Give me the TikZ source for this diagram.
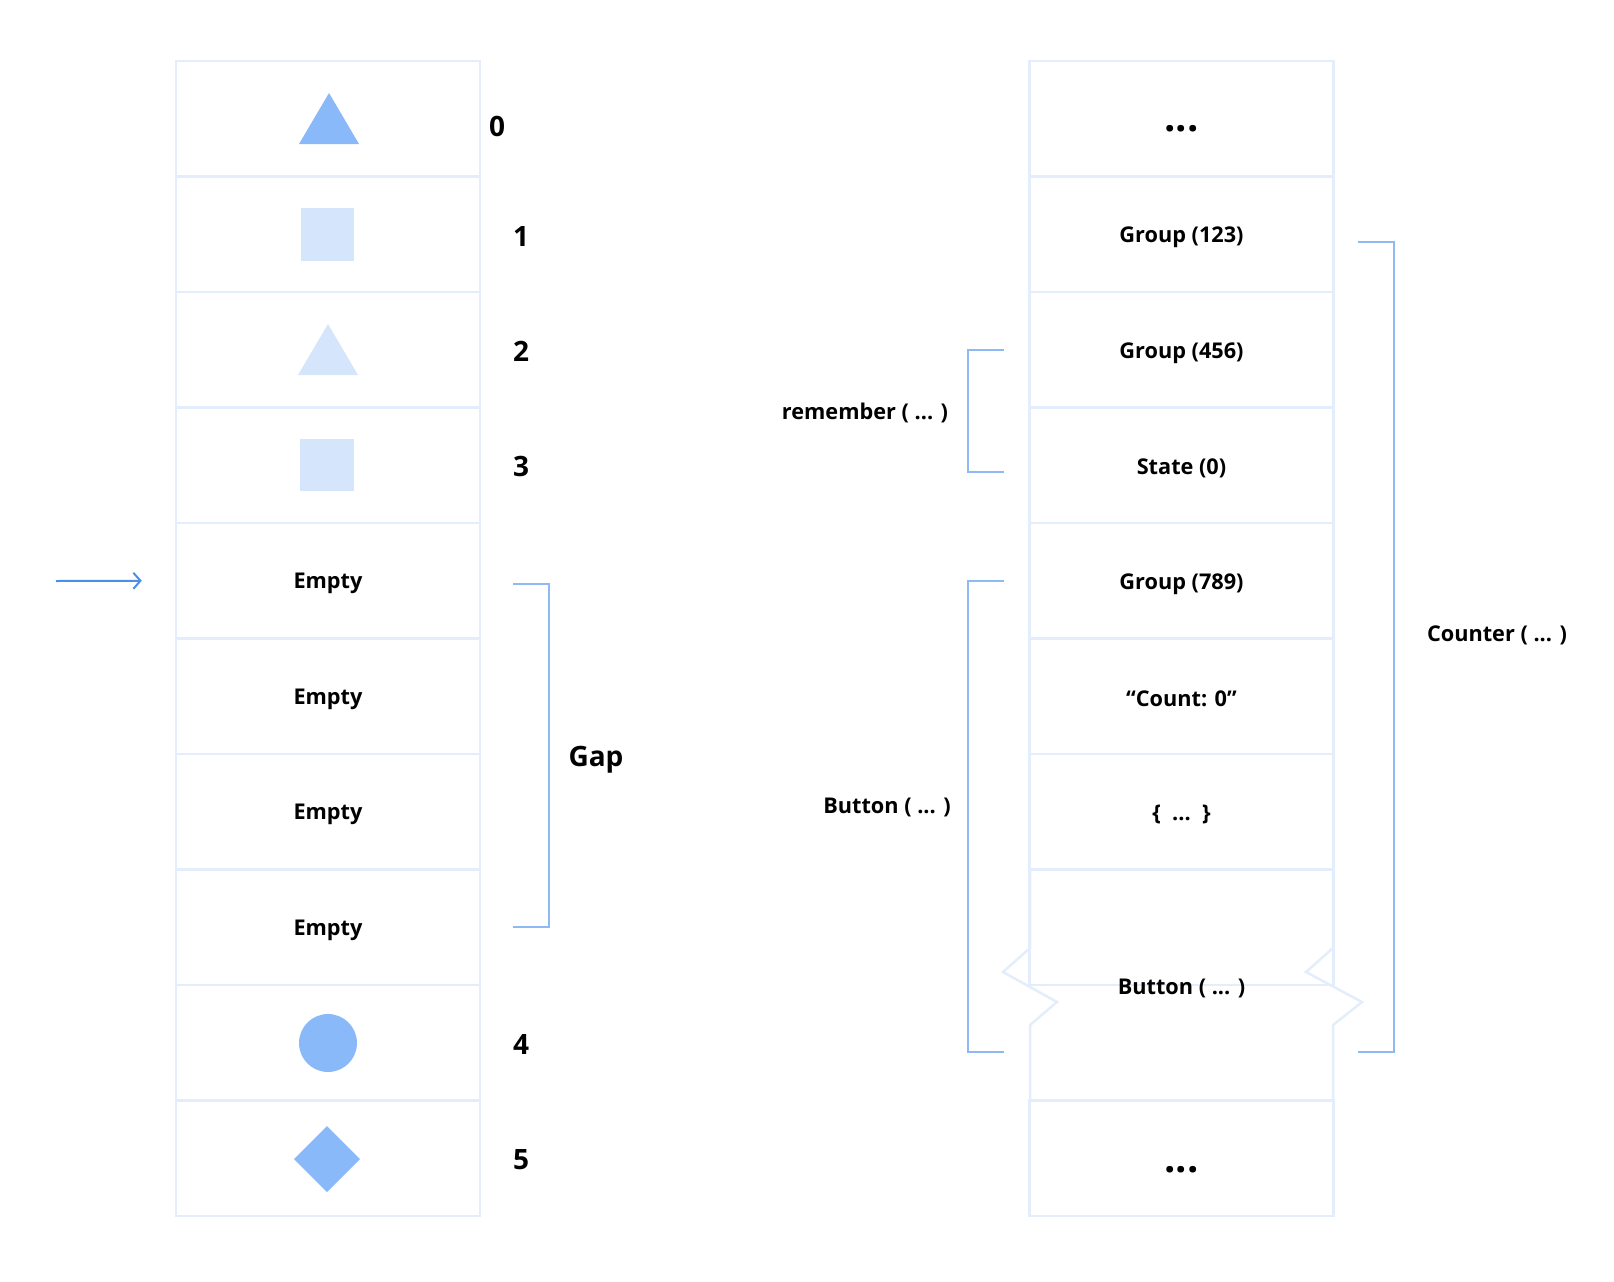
\documentclass[tikz,border=0pt]{standalone}
\usepackage{fontspec}
\setmainfont{Open Sans}
\usetikzlibrary{arrows.meta}
\definecolor{cellline}{HTML}{E3EDFC}
\definecolor{brk}{HTML}{8DB9F5}
\definecolor{shapedark}{HTML}{8AB9F9}
\definecolor{shapelight}{HTML}{D5E6FC}
\definecolor{arrowblue}{HTML}{4A90E8}
\begin{document}
\begin{tikzpicture}[x=1pt,y=-1pt,
  cell/.style={draw=cellline, line width=2.5pt, minimum width=304pt,
    minimum height=115.5pt, inner sep=0pt},
  celltext/.style={font=\fontsize{21.7}{26}\selectfont\bfseries, inner sep=0pt, yshift=-3pt},
  idx/.style={font=\fontsize{28}{32}\selectfont\bfseries, inner sep=0pt},
  bigdots/.style={font=\fontsize{40}{44}\selectfont\bfseries, inner sep=0pt, anchor=base},
  bracket/.style={draw=brk, line width=2.8pt},
  pointer/.style={draw=arrowblue, line width=2pt, -{Straight Barb[length=7pt,width=16pt,line width=2pt]}}
]
\useasboundingbox (0,0) rectangle (1614,1282);

% ---- left column: slot table ----
\foreach \i in {0,...,9} {
  \node[cell] (L\i) at (328, {61+115.5*(\i+0.5)}) {};
}
\fill[shapedark]  (299,144) -- (329,93) -- (359,144) -- cycle;
\fill[shapelight] (301,208) rectangle (354,261);
\fill[shapelight] (298,375) -- (328,324) -- (358,375) -- cycle;
\fill[shapelight] (300,439) rectangle (354,491);
\foreach \i in {4,...,7} {
  \node[celltext] (E\i) at (L\i.center) {Empty};
}
\fill[shapedark] (328,1043) circle (29);
\fill[shapedark] (327,1126) -- (360,1159) -- (327,1192) -- (294,1159) -- cycle;

% slot indices
\node[idx] (n0) at (497,126) {0};
\node[idx] (n1) at (521,237) {1};
\node[idx] (n2) at (521,351) {2};
\node[idx] (n3) at (521,466) {3};
\node[idx] (n4) at (521,1044) {4};
\node[idx] (n5) at (521,1160) {5};

% current position pointer
\coordinate (ptail) at (56,581);
\draw[pointer] (ptail) -- ([xshift=-33pt]L4.west);

% gap bracket
\draw[bracket] (513,584) -- (549,584) -- (549,927) -- (513,927);
\node[idx] (gap) at (596,760) {Gap};

% ---- right column: slot contents ----
\foreach \i in {0,...,7} {
  \node[cell] (R\i) at (1181.5, {61+115.5*(\i+0.5)}) {};
}
\node[cell] (R9) at (1181.5, 1158.25) {};
% tall Button row with break marks on both sides
\draw[draw=cellline, line width=2.5pt]
  (1030,870) -- (1030,948) -- (1003,972) -- (1057,1002) -- (1030,1025) -- (1030,1100);
\draw[draw=cellline, line width=2.5pt]
  (1333,870) -- (1333,948) -- (1306,972) -- (1362,1002) -- (1333,1025) -- (1333,1100);
\coordinate (R8) at (1181.5,985);

\node[bigdots] (d0) at (1181.5,131) {...};
\node[celltext] (t1) at (R1.center) {Group (123)};
\node[celltext] (t2) at (R2.center) {Group (456)};
\node[celltext] (t3) at (R3.center) {State (0)};
\node[celltext] (t4) at (R4.center) {Group (789)};
\node[celltext] (t5) at (R5.center) {“Count: 0”};
\node[celltext] (t6) at (R6.center) {\{\ \ ...\ \ \}};
\node[celltext] (t8) at (R8) {Button ( ... )};
\node[bigdots] (d9) at (1181.5,1172) {...};

% brackets on the right side
\draw[bracket] (1004,350) -- (968,350) -- (968,472) -- (1004,472);
\node[celltext] (rem) at (865,410) {remember ( ... )};
\draw[bracket] (1004,581) -- (968,581) -- (968,1052) -- (1004,1052);
\node[celltext] (btn) at (887,804) {Button ( ... )};
\draw[bracket] (1358,242) -- (1394,242) -- (1394,1052) -- (1358,1052);
\node[celltext] (ctr) at (1497,632) {Counter ( ... )};
\end{tikzpicture}
\end{document}
